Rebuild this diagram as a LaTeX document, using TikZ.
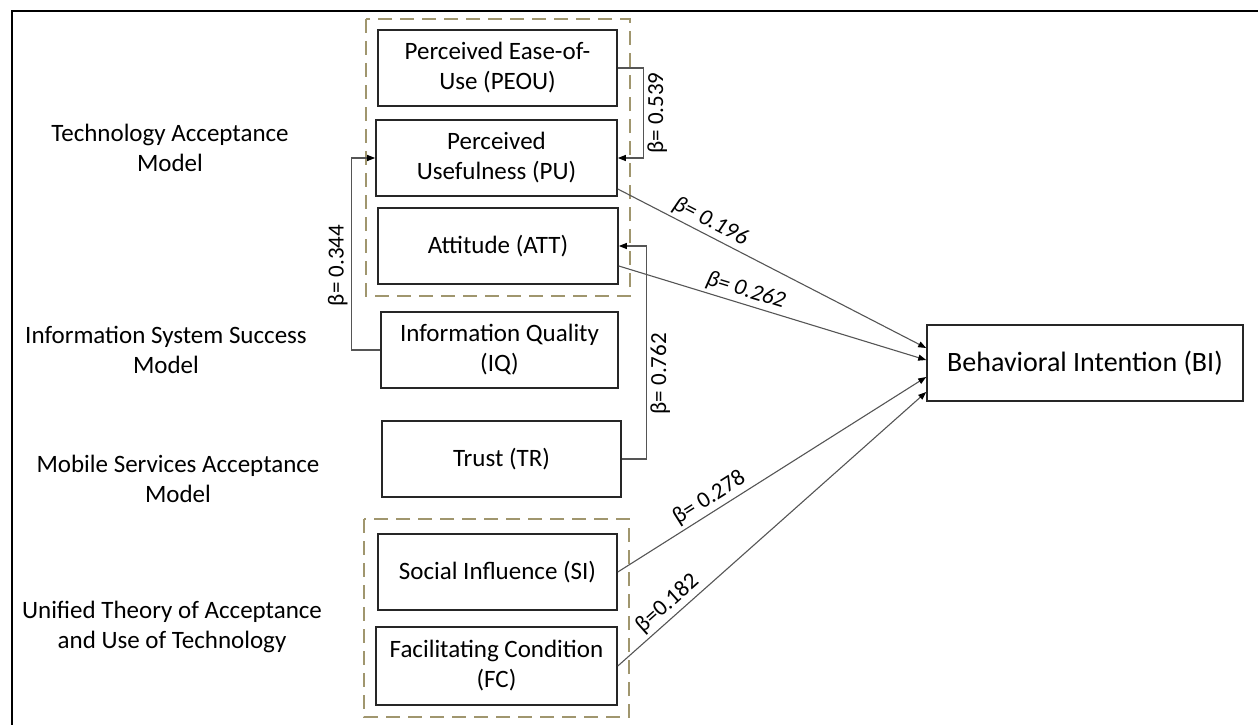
\documentclass[tikz,border=0pt]{standalone}
\usepackage{fontspec}
\setmainfont{Carlito}
\usetikzlibrary{arrows.meta,calc}
\definecolor{frameolive}{RGB}{160,150,110}
\definecolor{boxline}{RGB}{38,38,38}
\definecolor{connline}{RGB}{85,85,85}
\begin{document}
\begin{tikzpicture}[x=1pt,y=-1pt,
  box/.style={draw=boxline,line width=1.6pt,align=center,
    font=\fontsize{25}{30}\selectfont,inner sep=2pt},
  grp/.style={draw=frameolive,line width=2pt,dash pattern=on 14pt off 8pt},
  conn/.style={draw=connline,line width=1.1pt,
    -{Triangle[length=8pt,width=6pt,color=black]}},
  lbl/.style={font=\fontsize{23}{27}\selectfont,inner sep=3pt,text=black},
  side/.style={align=center,font=\fontsize{25}{30}\selectfont}
]
\useasboundingbox (0,0) rectangle (1258,725);
\draw[line width=2pt] (12,725) -- (12,11) -- (1258,11);

% group frames
\draw[grp] (366,19) rectangle (630,296);
\draw[grp] (364,519) rectangle (629,717);

% boxes
\node[box,minimum width=239pt,minimum height=76pt] (peou) at (497.5,68) {Perceived Ease-of-\\Use (PEOU)};
\node[box,minimum width=241pt,minimum height=76pt] (pu) at (496.5,158) {Perceived\\Usefulness (PU)};
\node[box,minimum width=240pt,minimum height=76pt] (att) at (498,246) {Attitude (ATT)};
\node[box,minimum width=237pt,minimum height=76pt] (iq) at (499.5,350) {Information Quality\\(IQ)};
\node[box,minimum width=239pt,minimum height=76pt] (tr) at (501.5,459) {Trust (TR)};
\node[box,minimum width=239pt,minimum height=76pt] (si) at (497.5,572) {Social Influence (SI)};
\node[box,minimum width=241pt,minimum height=78pt] (fc) at (496.5,666) {Facilitating Condition\\(FC)};
\node[box,minimum width=316pt,minimum height=76pt,font=\fontsize{28}{33}\selectfont] (bi) at (1085,363) {Behavioral Intention (BI)};

% side labels
\node[side] (tam) at (170,148) {Technology Acceptance\\Model};
\node[side] (iss) at (166,350) {Information System Success\\Model};
\node[side] (msa) at (178,479) {Mobile Services Acceptance\\Model};
\node[side] (utaut) at (172,627) {Unified Theory of Acceptance\\and Use of Technology};

% connection points
\coordinate (puo) at ($(pu.east)+(0,31)$);
\coordinate (atto) at ($(att.east)+(0,20)$);
\coordinate (bi1) at ($(bi.west)+(0,-15)$);
\coordinate (bi2) at ($(bi.west)+(0,-3)$);
\coordinate (bi3) at ($(bi.west)+(0,14)$);
\coordinate (bi4) at ($(bi.west)+(0,29)$);

% elbow connectors
\draw[conn] (peou.east) -- ++(26,0) |- node[lbl,pos=0.25,rotate=90,anchor=north] {β= 0.539} (pu.east);
\draw[conn] (iq.west) -- ++(-29,0) |- node[lbl,pos=0.22,rotate=90,anchor=south] {β= 0.344} (pu.west);
\draw[conn] (tr.east) -- ++(25,0) |- node[lbl,pos=0.2,rotate=90,anchor=north] {β= 0.762} (att.east);

% diagonal connectors
\draw[conn] (puo) -- node[lbl,pos=0.28,sloped,above,font=\fontsize{23}{27}\itshape] {β= 0.196} (bi1);
\draw[conn] (atto) -- node[lbl,pos=0.4,sloped,above,font=\fontsize{23}{27}\itshape] {β= 0.262} (bi2);
\draw[conn] (si.east) -- node[lbl,pos=0.32,sloped,above] {β= 0.278} (bi3);
\draw[conn] (fc.east) -- node[lbl,pos=0.19,sloped,above] {β=0.182} (bi4);
\end{tikzpicture}
\end{document}
